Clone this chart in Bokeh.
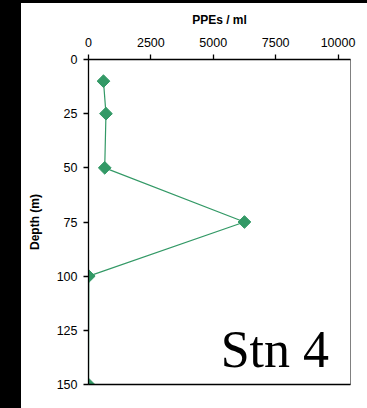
import math
from bokeh.plotting import figure
from bokeh.models import (Range1d, FixedTicker, Label, Div, LinearAxis,
                          ColumnDataSource)
from bokeh.layouts import row, column
from bokeh.embed import file_html
from bokeh.resources import INLINE

# Data
depth_m = [10, 25, 50, 75, 100, 150]
ppes_per_ml = [600, 700, 650, 6250, 10, 0]
x_ticks = [0, 2500, 5000, 7500, 10000]
y_ticks = [0, 25, 50, 75, 100, 125, 150]
station_label = "Stn 4"

GREEN = "#339966"
FONT = "Liberation Sans"

src = ColumnDataSource(dict(x=ppes_per_ml, y=depth_m))

p = figure(frame_width=262, frame_height=325,
           min_border_left=67, min_border_right=17,
           min_border_top=56, min_border_bottom=24,
           x_range=Range1d(0, 10500), y_range=Range1d(150, 0),
           x_axis_location="above", margin=(0, 0, 0, 0),
           output_backend="svg", toolbar_location=None,
           background_fill_color="white", border_fill_color="white")

p.xgrid.visible = False
p.ygrid.visible = False
p.outline_line_color = "#808080"
p.outline_line_width = 1

xa = p.xaxis[0]
xa.ticker = FixedTicker(ticks=x_ticks)
xa.axis_label = "PPEs / ml"
xa.axis_label_text_font = FONT
xa.axis_label_text_font_style = "bold"
xa.axis_label_text_font_size = "12px"
xa.axis_label_text_color = "black"
xa.axis_label_standoff = 8
xa.major_label_text_font = FONT
xa.major_label_text_font_size = "12.5px"
xa.major_label_text_color = "black"
xa.major_label_standoff = 8
xa.major_tick_in = 0
xa.major_tick_out = 5
xa.minor_tick_line_color = None
xa.axis_line_color = "black"
xa.axis_line_width = 1.3
xa.major_tick_line_color = "black"
xa.major_tick_line_width = 1.3

ya = p.yaxis[0]
ya.ticker = FixedTicker(ticks=y_ticks)
ya.axis_label = "Depth (m)"
ya.axis_label_text_font = FONT
ya.axis_label_text_font_style = "bold"
ya.axis_label_text_font_size = "12px"
ya.axis_label_text_color = "black"
ya.axis_label_standoff = 12
ya.major_label_text_font = FONT
ya.major_label_text_font_size = "12.5px"
ya.major_label_text_color = "black"
ya.major_label_standoff = 6
ya.major_tick_in = 0
ya.major_tick_out = 5
ya.minor_tick_line_color = None
ya.axis_line_color = "black"
ya.axis_line_width = 1.3
ya.major_tick_line_color = "black"
ya.major_tick_line_width = 1.3

bottom = LinearAxis(ticker=FixedTicker(ticks=[0]), axis_line_color="black",
                    axis_line_width=1.6,
                    major_tick_line_color=None, minor_tick_line_color=None,
                    major_label_text_color=None,
                    major_label_text_font_size="2px")
p.add_layout(bottom, "below")

p.line("x", "y", source=src, line_color=GREEN, line_width=1.2)
p.scatter("x", "y", source=src, marker="square", angle=math.pi / 4,
          size=9, fill_color=GREEN, line_color=GREEN)

p.add_layout(Label(x=9640, y=134, text=station_label,
                   text_align="right", text_baseline="alphabetic",
                   text_font="Liberation Serif", text_font_size="52px",
                   text_color="black"))

left_bar = Div(width=21, height=408, margin=(0, 0, 0, 0),
               styles={"background-color": "black"})
top_bar = Div(width=346, height=3, margin=(0, 0, 0, 0),
              styles={"background-color": "black"})
layout = row(left_bar, column(top_bar, p, spacing=0, margin=(0, 0, 0, 0)),
             spacing=0, margin=(0, 0, 0, 0))

open("out.html", "w").write(file_html(layout, INLINE))
